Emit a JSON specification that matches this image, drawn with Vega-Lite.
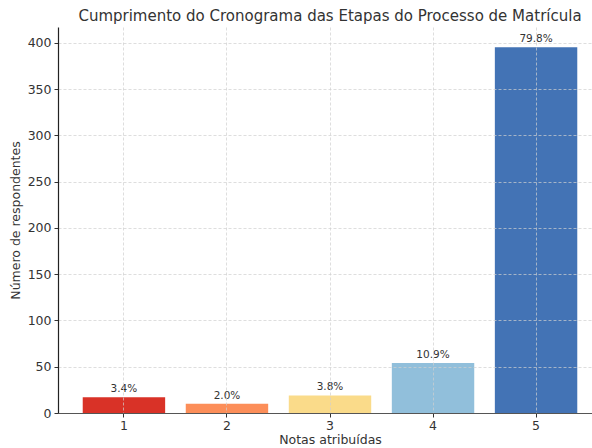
{
  "$schema": "https://vega.github.io/schema/vega-lite/v6.json",
  "width": 544,
  "height": 386,
  "autosize": {"type": "none"},
  "padding": {"left": 58, "top": 27, "right": 0, "bottom": 35},
  "background": "white",
  "title": {
    "text": "Cumprimento do Cronograma das Etapas do Processo de Matrícula",
    "fontSize": 15,
    "font": "DejaVu Sans",
    "fontWeight": "normal",
    "color": "#333333",
    "anchor": "middle",
    "offset": 3
  },
  "config": {
    "view": {"stroke": null},
    "font": "DejaVu Sans"
  },
  "data": {
    "values": [
      {"nota": "1", "count": 17, "label": "3.4%"},
      {"nota": "2", "count": 10, "label": "2.0%"},
      {"nota": "3", "count": 19, "label": "3.8%"},
      {"nota": "4", "count": 54, "label": "10.9%"},
      {"nota": "5", "count": 395, "label": "79.8%"}
    ]
  },
  "encoding": {
    "x": {
      "field": "nota",
      "type": "nominal",
      "sort": null,
      "scale": {"paddingInner": 0.2, "paddingOuter": 0.24},
      "axis": {
        "title": "Notas atribuídas",
        "titleFontSize": 12.5,
        "titleFontWeight": "normal",
        "titleColor": "#333333",
        "titlePadding": 2,
        "labelAngle": 0,
        "labelFontSize": 12.5,
        "labelColor": "#333333",
        "labelPadding": 2,
        "domainColor": "#555555",
        "domainWidth": 1.2,
        "tickColor": "#333333",
        "tickSize": 4,
        "bandPosition": 0.5,
        "grid": true,
        "gridColor": "#d0d0d0",
        "gridDash": [3, 2],
        "gridWidth": 0.7,
        "zindex": 1
      }
    },
    "y": {
      "field": "count",
      "type": "quantitative",
      "scale": {"domain": [0, 417], "nice": false},
      "axis": {
        "title": "Número de respondentes",
        "titleFontSize": 12.5,
        "titleFontWeight": "normal",
        "titleColor": "#333333",
        "titlePadding": 5,
        "values": [0, 50, 100, 150, 200, 250, 300, 350, 400],
        "labelFontSize": 12.5,
        "labelColor": "#333333",
        "labelPadding": 3,
        "domainColor": "#222222",
        "domainWidth": 1.2,
        "tickColor": "#333333",
        "tickSize": 4,
        "grid": true,
        "gridColor": "#d0d0d0",
        "gridDash": [3, 2],
        "gridWidth": 0.7,
        "zindex": 1
      }
    }
  },
  "layer": [
    {
      "mark": {"type": "bar"},
      "encoding": {
        "color": {
          "field": "nota",
          "type": "nominal",
          "scale": {
            "domain": ["1", "2", "3", "4", "5"],
            "range": ["#d93227", "#fc8e59", "#fadb8a", "#91bfdb", "#4373b5"]
          },
          "legend": null
        }
      }
    },
    {
      "mark": {"type": "text", "baseline": "bottom", "dy": -3, "fontSize": 10.5, "color": "#333333"},
      "encoding": {
        "text": {"field": "label"}
      }
    }
  ]
}
